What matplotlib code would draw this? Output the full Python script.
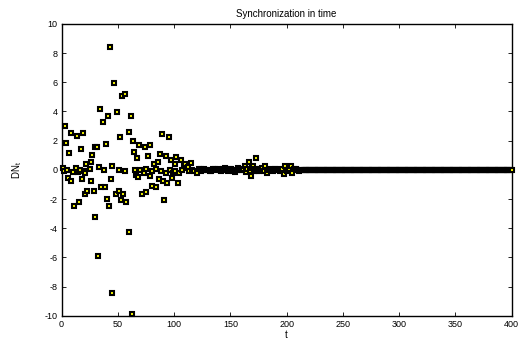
import numpy as np
import matplotlib
matplotlib.use("Agg")
import matplotlib.pyplot as plt

# noisy transient (t, DN_t)
t_noisy = [
    1, 2, 3, 4, 5, 5.5, 7, 8, 8.6, 9.8, 11, 12.7, 14, 15, 15.4, 16.6, 17.5, 18.2,
    19, 20, 20.5, 20.8, 22, 22.8, 25, 26, 26.6, 27, 28.6, 29.6, 30, 31.7, 32, 33,
    33.8, 34.8, 37, 37.5, 38.4, 39.7, 40, 41.5, 42, 43, 44.2, 44.7, 45, 46.8, 48,
    49.5, 50.7, 51, 52.4, 53.3, 54, 54.8, 56, 56.6, 57.5, 60, 60.4, 62, 62.2, 63.5,
    64.6, 65, 65.8, 67, 67.8, 68.7, 70, 71.7, 73.2, 73.8, 74.7, 75, 77, 78.2, 79,
    80, 80.6, 82, 83.6, 84, 85.6, 86.5, 87.4, 88, 89.5, 89.8, 91, 92.4, 93, 94,
    95.4, 96, 97, 97.8, 99, 100.4, 101, 102, 103.7, 104, 105.8, 107, 108.7, 109.6,
    111, 112.6, 113, 114.7, 116, 118, 120.6, 122,
]
dn_noisy = [
    0.12, -0.05, 3.0, 1.87, 0.0, -0.57, 1.14, -0.73, 2.5, -0.18, -2.5, 0.12, 2.33,
    -0.12, -2.2, 0.0, 1.4, -0.62, 2.5, -0.05, -0.23, -1.67, 0.41, -1.48, 0.07,
    0.57, -0.78, 1.0, -1.48, 1.6, -3.24, 1.6, -5.93, 0.23, 4.15, -1.19, 3.27, 0.0,
    -1.19, 1.78, -2.0, 3.7, -2.46, 8.4, -0.64, 0.27, -8.45, 5.98, -1.67, 3.97, 0.0,
    -1.42, 2.28, -2.1, 5.09, -1.67, 5.18, -0.07, -2.17, 2.62, -4.27, 3.7, -9.9,
    1.96, 1.25, -0.02, -0.38, 0.8, -0.5, 1.7, 0.0, -1.67, -0.23, 1.6, -1.53, 0.05,
    0.98, -0.41, 1.69, -0.05, -1.1, 0.4, -1.19, 0.05, 0.52, -0.6, 1.07, -0.1, 2.44,
    -0.78, -2.05, 0.98, -0.2, -0.88, 2.28, 0.0, 0.68, -0.53, -0.2, 0.41, -0.05,
    0.91, -0.87, -0.2, 0.68, 0.0, 0.27, 0.41, 0.11, 0.23, -0.1, 0.46, 0.0, -0.1,
    -0.23, 0.05,
]

# small residuals while settling (t 123..214)
t_settle = [
    123.5, 124, 125.5, 127, 128.5, 130, 131.5, 133, 134.5, 136, 137.5, 139, 140.5,
    142, 143.5, 145, 146.5, 148, 149.5, 151, 152.5, 154, 155.5, 157, 158.5, 160,
    161.5, 163, 164, 165, 166.5, 167.4, 168, 169, 170.4, 171, 172, 173, 174,
    175.4, 176.5, 178, 179.5, 181, 182.8, 184, 185, 186.5, 188, 189.5, 191, 192.5,
    194, 195.5, 197.6, 199, 200, 201, 202.5, 203.6, 205, 206.5, 208, 209.5, 211,
    212.5, 214,
]
dn_settle = [
    0.05, -0.08, -0.03, 0.06, 0.0, 0.0, -0.06, -0.1, 0.03, 0.08, -0.04, 0.05, 0.0,
    -0.1, 0.06, 0.1, -0.02, -0.05, 0.04, 0.08, -0.06, -0.12, 0.02, 0.1, -0.04, 0.0,
    0.07, 0.27, -0.12, 0.05, 0.57, -0.05, -0.39, 0.1, 0.27, -0.1, 0.05, 0.8, -0.08,
    -0.05, 0.08, 0.1, -0.06, 0.25, -0.2, 0.02, 0.05, -0.04, -0.1, 0.06, 0.08, -0.03,
    -0.05, 0.04, -0.27, 0.25, -0.08, 0.0, 0.06, 0.25, -0.23, 0.03, 0.05, -0.04,
    -0.05, 0.02, 0.0,
]

# synchronized: flat at zero up to the end
flat_start, flat_end, flat_value = 215, 400, 0.0

t_flat = np.arange(flat_start, flat_end + 1)
t_all = np.concatenate([t_noisy, t_settle, t_flat])
dn_all = np.concatenate([dn_noisy, dn_settle, np.full(len(t_flat), flat_value)])

plt.rcParams["font.family"] = ["Liberation Sans", "DejaVu Sans"]
plt.rcParams["axes.unicode_minus"] = False

fig = plt.figure(figsize=(5.19, 3.47), dpi=100)
ax = fig.add_axes([0.1185, 0.09, 0.8675, 0.841])

ax.plot(t_all, dn_all, linestyle="none", marker="s", markersize=2.6,
        markerfacecolor="yellow", markeredgecolor="black", markeredgewidth=1.5,
        clip_on=False, zorder=3)

ax.set_xlim(0, 400)
ax.set_ylim(-10, 10)
ax.set_xticks(np.arange(0, 401, 50))
ax.set_yticks(np.arange(-10, 11, 2))
ax.tick_params(direction="in", length=3, width=0.6, labelsize=6.5, pad=3,
               top=True, right=True)
for s in ax.spines.values():
    s.set_linewidth(1.0)

ax.set_title("Synchronization in time", fontsize=7, pad=5)
ax.set_xlabel("t", fontsize=7, labelpad=1)
ax.set_ylabel("DN$_\\mathregular{t}$", fontsize=7, labelpad=15)

fig.savefig("out.png", dpi=100, facecolor="white")
